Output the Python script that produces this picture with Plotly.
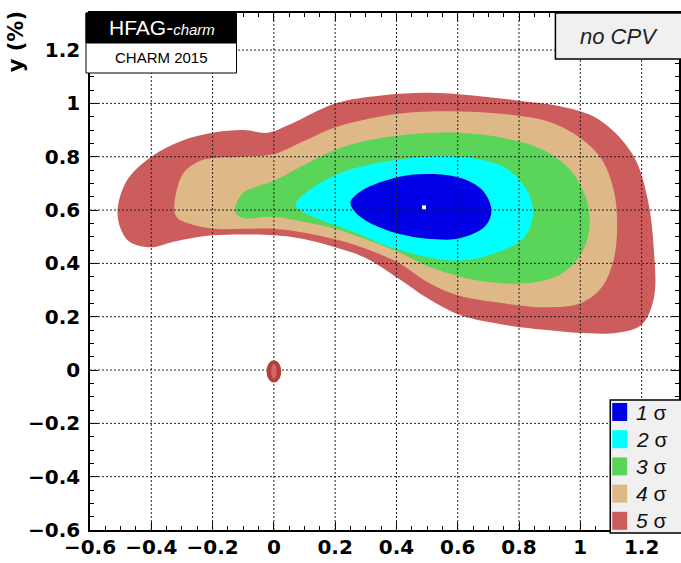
import plotly.graph_objects as go

# ---------------- data ----------------
LEVEL_LABELS = ["1", "2", "3", "4", "5"]
LEVEL_COLORS = ["#0000e6", "#00ffff", "#5ad55a", "#deb887", "#cd5c5c"]

# contour boundaries, x (%) and y (%)
SIG1_X = [0.25, 0.29, 0.41, 0.51, 0.61, 0.68, 0.71, 0.69, 0.61, 0.53, 0.41, 0.30, 0.26, 0.25]
SIG1_Y = [0.63, 0.675, 0.725, 0.735, 0.72, 0.675, 0.60, 0.54, 0.495, 0.49, 0.51, 0.56, 0.60, 0.63]

SIG2_X = [0.07, 0.135, 0.244, 0.41, 0.61, 0.76, 0.83, 0.845, 0.81, 0.70, 0.59, 0.41, 0.244, 0.10, 0.07]
SIG2_Y = [0.62, 0.69, 0.75, 0.79, 0.80, 0.755, 0.665, 0.575, 0.49, 0.43, 0.41, 0.45, 0.525, 0.59, 0.62]

SIG3_X = [-0.125, -0.10, -0.05, 0.00, 0.10, 0.20, 0.30, 0.41, 0.60, 0.75, 0.87, 0.96, 1.01, 1.03,
          1.02, 0.98, 0.92, 0.82, 0.70, 0.61, 0.50, 0.41, 0.30, 0.20, 0.10, 0.00, -0.10, -0.125, -0.125]
SIG3_Y = [0.615, 0.665, 0.69, 0.71, 0.77, 0.825, 0.86, 0.88, 0.89, 0.87, 0.83, 0.76, 0.67, 0.58,
          0.48, 0.40, 0.35, 0.325, 0.33, 0.35, 0.39, 0.44, 0.49, 0.53, 0.555, 0.575, 0.57, 0.59, 0.615]

SIG4_X = [-0.325, -0.30, -0.25, -0.20, -0.10, 0.00, 0.10, 0.20, 0.40, 0.60, 0.75, 0.90, 1.00, 1.07,
          1.11, 1.12, 1.11, 1.07, 1.00, 0.89, 0.75, 0.60, 0.50, 0.41, 0.30, 0.20, 0.10, 0.00,
          -0.10, -0.20, -0.28, -0.315, -0.325]
SIG4_Y = [0.60, 0.73, 0.78, 0.795, 0.80, 0.81, 0.86, 0.91, 0.96, 0.97, 0.96, 0.93, 0.87, 0.79,
          0.67, 0.55, 0.42, 0.31, 0.25, 0.235, 0.25, 0.28, 0.33, 0.40, 0.455, 0.49, 0.515, 0.53,
          0.53, 0.53, 0.55, 0.57, 0.60]

SIG5_X = [-0.51, -0.48, -0.40, -0.30, -0.20, -0.10, -0.02, 0.05, 0.20, 0.35, 0.50, 0.65, 0.80,
          0.93, 1.06, 1.17, 1.22, 1.24, 1.24, 1.20, 1.12, 0.99, 0.89, 0.75, 0.61, 0.50, 0.41,
          0.30, 0.20, 0.10, 0.00, -0.20, -0.33, -0.40, -0.47, -0.50, -0.51]
SIG5_Y = [0.60, 0.71, 0.80, 0.86, 0.89, 0.90, 0.89, 0.92, 1.00, 1.03, 1.04, 1.03, 1.01,
          0.99, 0.94, 0.81, 0.64, 0.45, 0.27, 0.17, 0.14, 0.14, 0.15, 0.17, 0.205, 0.27, 0.34,
          0.42, 0.46, 0.49, 0.505, 0.505, 0.48, 0.46, 0.48, 0.53, 0.60]

CONTOURS_X = [SIG1_X, SIG2_X, SIG3_X, SIG4_X, SIG5_X]
CONTOURS_Y = [SIG1_Y, SIG2_Y, SIG3_Y, SIG4_Y, SIG5_Y]

BEST_FIT_X = [0.49]
BEST_FIT_Y = [0.61]

# small 5 sigma island around the no-mixing point
ISLAND_CENTER = [0.0, -0.005]
ISLAND_HALF = [0.024, 0.042]
ISLAND_CORE_HALF = [0.009, 0.028]

X_TICKS = [-0.6, -0.4, -0.2, 0.0, 0.2, 0.4, 0.6, 0.8, 1.0, 1.2]
Y_TICKS = [-0.6, -0.4, -0.2, 0.0, 0.2, 0.4, 0.6, 0.8, 1.0, 1.2]
X_RANGE = [-0.6, 1.322]
Y_RANGE = [-0.6, 1.339]

# ---------------- figure ----------------
W, H = 681, 563
ML, MR, MT, MB = 90, 0, 13, 33
PW, PH = W - ML - MR, H - MT - MB


def px(xp):
    return (xp - ML) / PW


def py(yp):
    return (H - MB - yp) / PH


fig = go.Figure()

for i in reversed(range(len(LEVEL_LABELS))):
    fig.add_trace(go.Scatter(
        x=CONTOURS_X[i], y=CONTOURS_Y[i], mode="lines",
        line=dict(width=0, shape="spline", smoothing=1.0, color=LEVEL_COLORS[i]),
        fill="toself", fillcolor=LEVEL_COLORS[i],
        hoverinfo="skip", showlegend=False,
        name=LEVEL_LABELS[i] + " σ",
    ))

fig.add_trace(go.Scatter(
    x=BEST_FIT_X, y=BEST_FIT_Y, mode="markers",
    marker=dict(size=4, color="white", symbol="square"),
    hoverinfo="skip", showlegend=False,
))

shapes = []
# dotted grid drawn above the filled contours (as in the original)
grid_line = dict(color="#222222", width=1, dash="2px,2px")
for v in X_TICKS[1:]:
    shapes.append(dict(type="line", xref="x", yref="paper", x0=v, x1=v, y0=0, y1=1,
                       layer="above", line=grid_line))
for v in Y_TICKS[1:]:
    shapes.append(dict(type="line", xref="paper", yref="y", x0=0, x1=1, y0=v, y1=v,
                       layer="above", line=grid_line))

# island (drawn over the grid)
shapes.append(dict(type="circle", xref="x", yref="y", layer="above",
                   x0=ISLAND_CENTER[0] - ISLAND_HALF[0], x1=ISLAND_CENTER[0] + ISLAND_HALF[0],
                   y0=ISLAND_CENTER[1] - ISLAND_HALF[1], y1=ISLAND_CENTER[1] + ISLAND_HALF[1],
                   fillcolor="#b23f3c", line=dict(width=0)))
shapes.append(dict(type="circle", xref="x", yref="y", layer="above",
                   x0=ISLAND_CENTER[0] - ISLAND_CORE_HALF[0], x1=ISLAND_CENTER[0] + ISLAND_CORE_HALF[0],
                   y0=ISLAND_CENTER[1] - ISLAND_CORE_HALF[1], y1=ISLAND_CENTER[1] + ISLAND_CORE_HALF[1],
                   fillcolor="#d46462", line=dict(width=0)))

# HFAG-charm label box
shapes.append(dict(type="rect", xref="paper", yref="paper", layer="above",
                   x0=px(86), x1=px(237), y0=py(73), y1=py(13),
                   fillcolor="white", line=dict(color="black", width=1)))
shapes.append(dict(type="rect", xref="paper", yref="paper", layer="above",
                   x0=px(86), x1=px(237), y0=py(43), y1=py(13),
                   fillcolor="black", line=dict(color="black", width=1)))
# no CPV box
shapes.append(dict(type="rect", xref="paper", yref="paper", layer="above",
                   x0=px(557), x1=px(690), y0=py(59), y1=py(13),
                   fillcolor="#f0f0f0", line=dict(color="black", width=1.5)))
# legend box
shapes.append(dict(type="rect", xref="paper", yref="paper", layer="above",
                   x0=px(612), x1=px(690), y0=py(533), y1=py(400),
                   fillcolor="#f0f0f0", line=dict(color="black", width=1.5)))

annotations = []
row_top, row_step, sw_h = 403, 27.2, 18
for i, lab in enumerate(LEVEL_LABELS):
    top = row_top + i * row_step
    shapes.append(dict(type="rect", xref="paper", yref="paper", layer="above",
                       x0=px(614), x1=px(629), y0=py(top + sw_h), y1=py(top),
                       fillcolor=LEVEL_COLORS[i], line=dict(width=0)))
    annotations.append(dict(xref="paper", yref="paper", x=px(636), y=py(top + sw_h / 2),
                            xanchor="left", yanchor="middle", showarrow=False,
                            text="<i>" + lab + "</i> σ",
                            font=dict(family="Liberation Sans", size=21, color="#111111")))

annotations.append(dict(xref="paper", yref="paper", x=px(162), y=py(28),
                        xanchor="center", yanchor="middle", showarrow=False,
                        text="HFAG-<i><span style='font-size:15px'>charm</span></i>",
                        font=dict(family="Liberation Sans", size=21, color="white")))
annotations.append(dict(xref="paper", yref="paper", x=px(162), y=py(57),
                        xanchor="center", yanchor="middle", showarrow=False,
                        text="CHARM 2015",
                        font=dict(family="Liberation Sans", size=15, color="black")))
annotations.append(dict(xref="paper", yref="paper", x=px(621), y=py(36),
                        xanchor="center", yanchor="middle", showarrow=False,
                        text="<i>no CPV</i>",
                        font=dict(family="Liberation Sans", size=22, color="#222222")))
annotations.append(dict(xref="paper", yref="paper", x=px(16), y=py(42),
                        xanchor="center", yanchor="middle", showarrow=False, textangle=-90,
                        text="y (%)",
                        font=dict(family="DejaVu Sans", size=21, weight="bold", color="black")))

tickfont = dict(family="DejaVu Sans", size=20, weight="bold", color="black")
axis_common = dict(
    showgrid=False, zeroline=False, showline=True, linecolor="black", linewidth=1.5,
    mirror="allticks", ticks="inside", ticklen=8, tickwidth=1.2, tickcolor="black",
    tickfont=tickfont,
    minor=dict(ticks="inside", ticklen=4, tickwidth=1, tickcolor="black", dtick=0.05,
               tick0=0, showgrid=False),
)
fig.update_xaxes(range=X_RANGE, tickvals=X_TICKS, ticklabelstandoff=-2, **axis_common)
fig.update_yaxes(range=Y_RANGE, tickvals=Y_TICKS, ticklabelstandoff=4, **axis_common)

fig.update_layout(
    width=W, height=H,
    margin=dict(l=ML, r=MR, t=MT, b=MB),
    paper_bgcolor="white", plot_bgcolor="white",
    shapes=shapes, annotations=annotations, showlegend=False,
)

fig.write_html("out.html")
